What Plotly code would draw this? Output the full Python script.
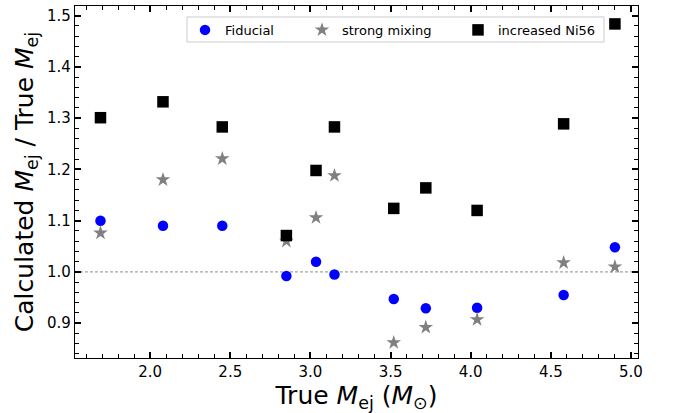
import plotly.graph_objects as go

# True ejecta mass of each model (solar masses)
true_mej = [1.69, 2.08, 2.45, 2.85, 3.035, 3.15, 3.52, 3.72, 4.04, 4.58, 4.90]

# Ratio of calculated to true ejecta mass for each model set
fiducial = [1.100, 1.090, 1.090, 0.992, 1.020, 0.995, 0.947, 0.929, 0.930, 0.955, 1.048]
strong_mixing = [1.076, 1.180, 1.221, 1.060, 1.106, 1.188, 0.862, 0.892, 0.907, 1.018, 1.010]
increased_ni56 = [1.301, 1.332, 1.283, 1.071, 1.198, 1.283, 1.124, 1.164, 1.120, 1.289, 1.484]

x_ticks = [2.0, 2.5, 3.0, 3.5, 4.0, 4.5, 5.0]
y_ticks = [0.9, 1.0, 1.1, 1.2, 1.3, 1.4, 1.5]

FONT = "DejaVu Sans"

fig = go.Figure()
fig.add_trace(go.Scatter(
    x=true_mej, y=fiducial, mode="markers", name="Fiducial", legend="legend",
    showlegend=True,
    marker=dict(symbol="circle", size=10.5, color="#0000ff"),
))
fig.add_trace(go.Scatter(
    x=true_mej, y=strong_mixing, mode="markers", name="strong mixing", legend="legend2",
    showlegend=True,
    marker=dict(symbol="star", size=11, color="#808080"),
))
fig.add_trace(go.Scatter(
    x=true_mej, y=increased_ni56, mode="markers", name="increased Ni56", legend="legend3",
    showlegend=True,
    marker=dict(symbol="square", size=11.5, color="#000000"),
))

# reference line at ratio = 1
fig.add_shape(type="line", xref="paper", yref="y", x0=0, x1=1, y0=1.0, y1=1.0,
              line=dict(color="#808080", width=0.9, dash="3px,2px"), layer="below")

# frame around the legend entries
fig.add_shape(type="rect", xref="paper", yref="paper",
              x0=0.199, x1=0.9396, y0=0.8977, y1=0.9688,
              line=dict(color="#cccccc", width=1), fillcolor="rgba(255,255,255,0.8)",
              layer="above")

axis_common = dict(
    showgrid=False, zeroline=False, showline=True, linecolor="#000000",
    linewidth=1.2, mirror="allticks", ticks="inside", ticklen=6, tickwidth=1.6,
    tickcolor="#000000", tickfont=dict(family=FONT, size=15, color="#000000"),
)

legend_common = dict(
    orientation="h", yanchor="middle", y=0.932, xanchor="left",
    bgcolor="rgba(0,0,0,0)", borderwidth=0,
    font=dict(family=FONT, size=13, color="#000000"),
)

fig.update_layout(
    width=673, height=413,
    margin=dict(l=75, r=35, t=6, b=55),
    paper_bgcolor="white", plot_bgcolor="white",
    font=dict(family=FONT, color="#000000"),
    showlegend=True,
    xaxis=dict(
        range=[1.531, 5.044], tickmode="array",
        tickvals=x_ticks, ticktext=[f"{v:.1f}" for v in x_ticks],
        minor=dict(ticks="inside", ticklen=3.5, dtick=0.1, tick0=0, tickcolor="#000000", tickwidth=1),
        title=dict(text="True <i>M</i><sub>ej</sub> (<i>M</i><sub>⊙</sub>)",
                   font=dict(family=FONT, size=25), standoff=2),
        **axis_common,
    ),
    yaxis=dict(
        range=[0.832, 1.519], tickmode="array",
        tickvals=y_ticks, ticktext=[f"{v:.1f}" for v in y_ticks],
        minor=dict(ticks="inside", ticklen=3.5, dtick=0.02, tick0=0, tickcolor="#000000", tickwidth=1),
        title=dict(text="Calculated <i>M</i><sub>ej</sub> / True <i>M</i><sub>ej</sub>",
                   font=dict(family=FONT, size=25), standoff=6),
        **axis_common,
    ),
    legend=dict(x=(205 - 20 - 75) / 563, **legend_common),
    legend2=dict(x=(322 - 20 - 75) / 563, **legend_common),
    legend3=dict(x=(478 - 20 - 75) / 563, **legend_common),
)

fig.write_html("out.html")
